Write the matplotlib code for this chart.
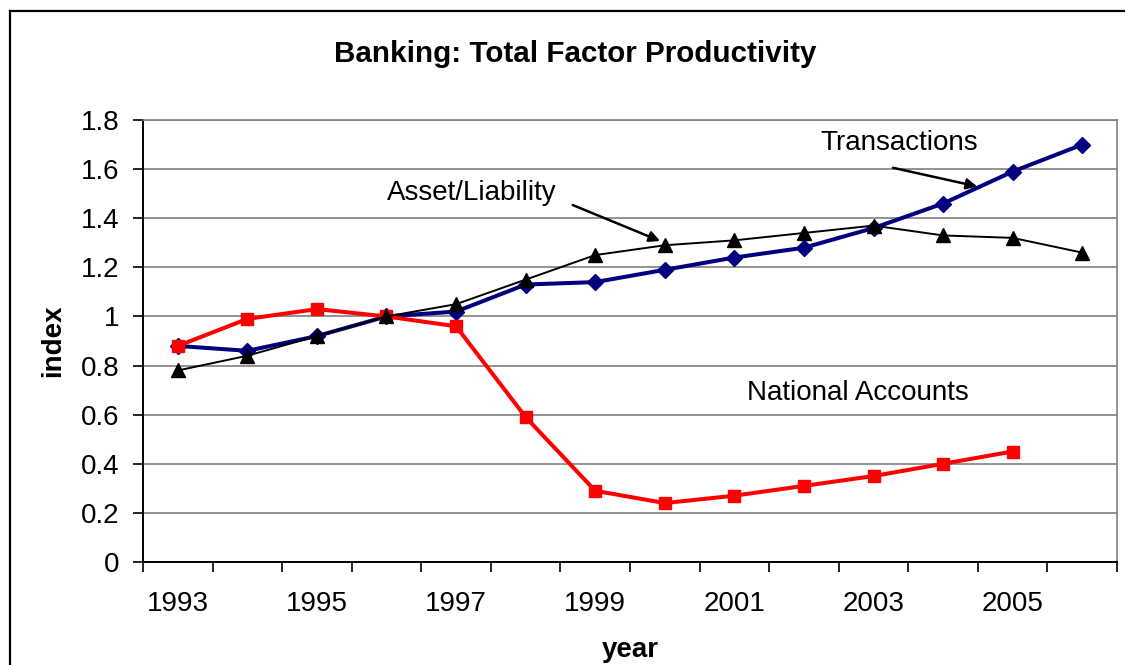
import numpy as np
import matplotlib
matplotlib.use('Agg')
import matplotlib.pyplot as plt
from matplotlib.lines import Line2D
from matplotlib.ticker import FuncFormatter

# Banking TFP index, 1996 = 1
years = list(range(1993, 2007))
transactions = [0.88, 0.86, 0.92, 1.00, 1.02, 1.13, 1.14, 1.19, 1.24, 1.28, 1.36, 1.46, 1.59, 1.70]
asset_liability = [0.78, 0.84, 0.92, 1.00, 1.05, 1.15, 1.25, 1.29, 1.31, 1.34, 1.37, 1.33, 1.32, 1.26]
national_accounts = [0.88, 0.99, 1.03, 1.00, 0.96, 0.59, 0.29, 0.24, 0.27, 0.31, 0.35, 0.40, 0.45]  # ends 2005
y_ticks = [0, 0.2, 0.4, 0.6, 0.8, 1.0, 1.2, 1.4, 1.6, 1.8]

plt.rcParams['font.family'] = ['Liberation Sans', 'DejaVu Sans']

fig = plt.figure(figsize=(11.25, 6.65), dpi=100)
ax = fig.add_axes([0.1271, 0.1549, 0.8658, 0.6646])

x = np.arange(len(years))
ax.plot(x, transactions, color='#000080', lw=2.9, marker='D', ms=7.8, zorder=3)
ax.plot(x[:len(national_accounts)], national_accounts, color='#FF0000', lw=2.9,
        marker='s', ms=8.4, zorder=4)
ax.plot(x, asset_liability, color='black', lw=1.4, marker='^', ms=10, zorder=5)

# axes
ax.set_xlim(-0.5, len(years) - 0.5)
ax.set_ylim(0, 1.8)
ax.set_yticks(y_ticks)
ax.yaxis.set_major_formatter(FuncFormatter(lambda v, p: f'{v:g}'))
ax.tick_params(axis='y', length=7, width=1.2, pad=10, labelsize=20)

ax.set_xticks(np.arange(len(years) + 1) - 0.5)
ax.tick_params(axis='x', which='major', length=7, width=1.2, labelbottom=False)
ax.set_xticks(x[::2], [str(y) for y in years[::2]], minor=True)
ax.tick_params(axis='x', which='minor', length=0, pad=21, labelsize=20)

ax.set_axisbelow(True)
ax.grid(axis='y', color='#808080', lw=1.2)
for s in ['top', 'right']:
    ax.spines[s].set_color('#808080')
    ax.spines[s].set_linewidth(1.2)
for s in ['left', 'bottom']:
    ax.spines[s].set_linewidth(1.4)

ax.text(0.4435, 1.149, 'Banking: Total Factor Productivity', transform=ax.transAxes,
        fontsize=21.3, fontweight='bold', ha='center', va='center')
ax.set_ylabel('index', fontsize=20, fontweight='bold', va='center')
ax.yaxis.set_label_coords(-0.092, 0.5)
ax.set_xlabel('year', fontsize=20, fontweight='bold', va='center')
ax.xaxis.set_label_coords(0.5, -0.199)

# series labels with arrows
arrow = dict(arrowstyle='-|>', color='black', lw=1.8, mutation_scale=16)
ax.text(10.37, 1.706, 'Transactions', fontsize=20, ha='center', va='center')
ax.annotate('', xy=(11.53, 1.527), xytext=(10.24, 1.608), arrowprops=arrow)
ax.text(4.23, 1.502, 'Asset/Liability', fontsize=20, ha='center', va='center')
ax.annotate('', xy=(6.97, 1.303), xytext=(5.64, 1.458), arrowprops=arrow)
ax.text(9.78, 0.688, 'National Accounts', fontsize=20, ha='center', va='center')

# outer chart frame (only left and top edges fall inside the picture)
fig.add_artist(Line2D([10 / 1125, 10 / 1125], [-0.1, 1 - 11 / 665], color='black', lw=1.6))
fig.add_artist(Line2D([10 / 1125, 1.1], [1 - 11 / 665, 1 - 11 / 665], color='black', lw=1.6))

fig.savefig('out.png', dpi=100)
